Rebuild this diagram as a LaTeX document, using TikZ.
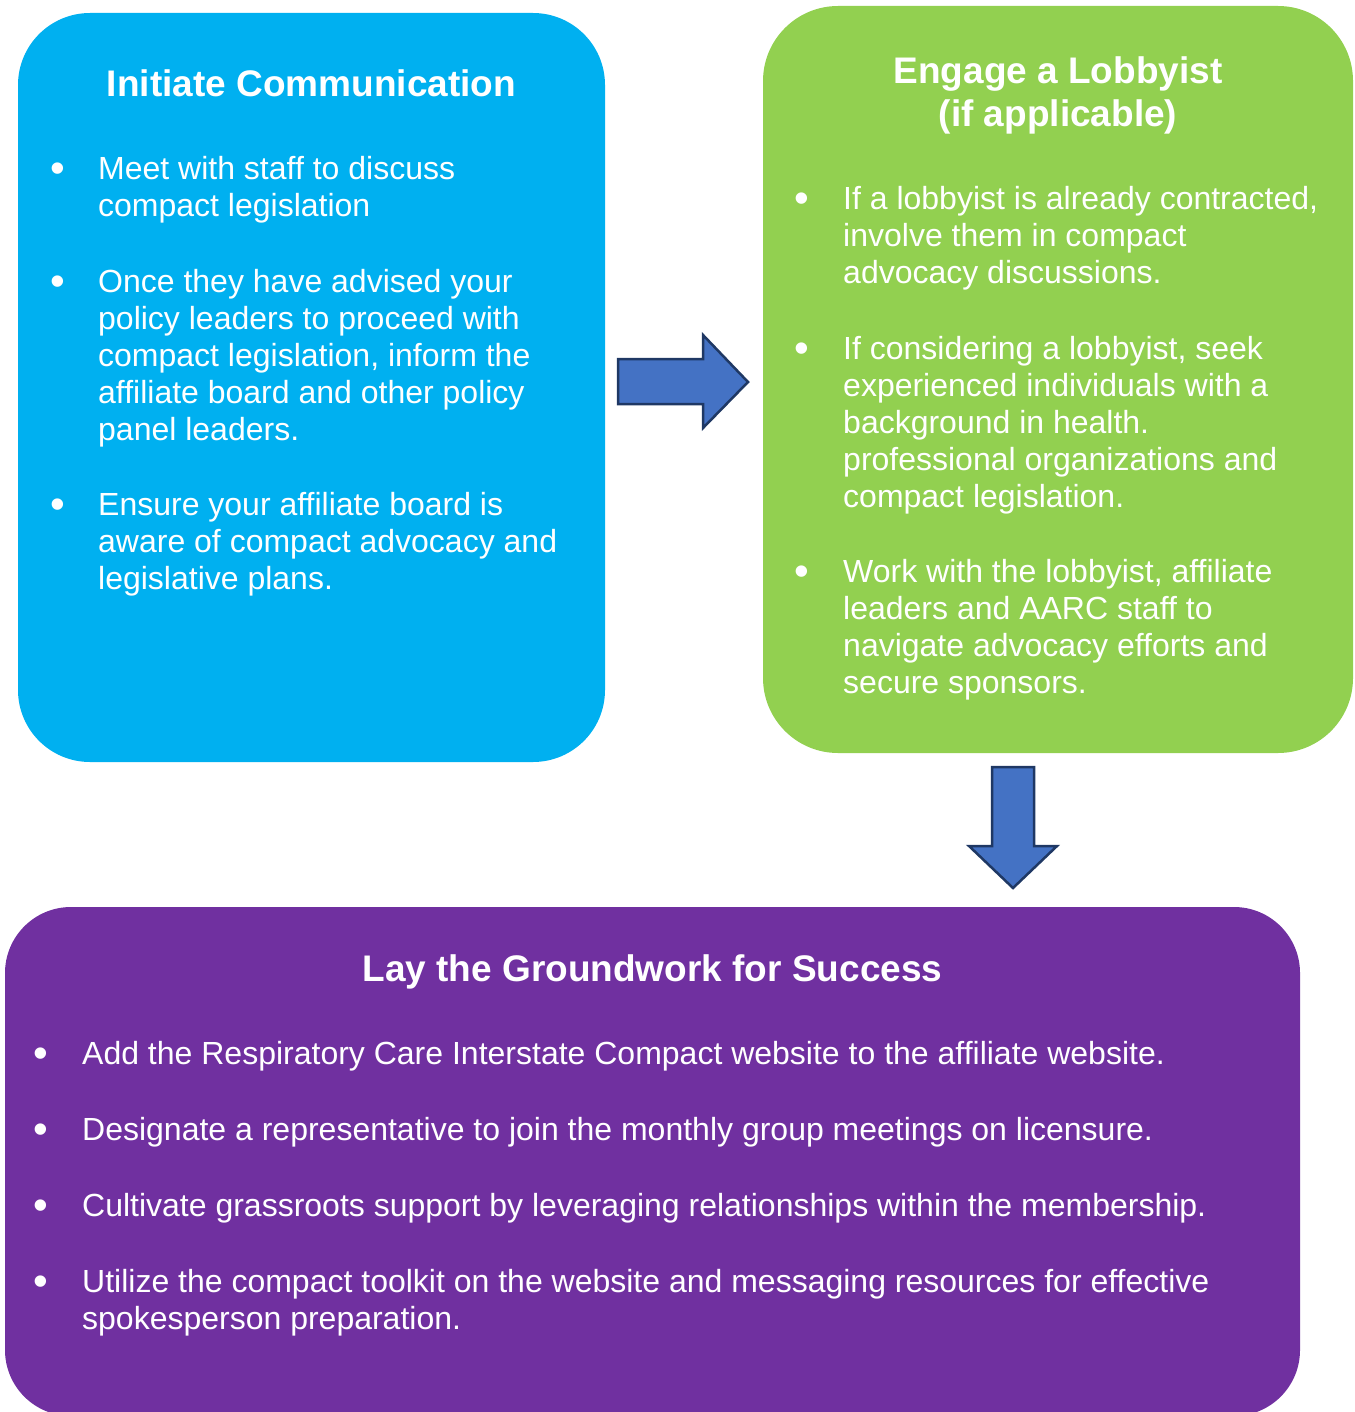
\documentclass[tikz,border=0pt]{standalone}
\usepackage{fontspec}
\setmainfont{Liberation Sans}
\definecolor{boxblue}{HTML}{00B0F0}
\definecolor{boxgreen}{HTML}{92D050}
\definecolor{boxpurple}{HTML}{7030A0}
\definecolor{arrowfill}{HTML}{4472C4}
\definecolor{arrowline}{HTML}{1F3864}
\tikzset{
  panel/.style={rounded corners=#1, draw=none},
  ttl/.style={text=white, inner sep=0pt, anchor=base, font=\fontsize{37}{42.5}\selectfont\bfseries, align=center},
  itemtext/.style={text=white, inner sep=0pt, anchor=base west, font=\fontsize{32}{37}\selectfont, align=left},
  dot/.style={text=white, inner sep=0pt, anchor=base, yshift=-3pt, font=\fontsize{42}{42}\selectfont},
  blockarrow/.style={fill=arrowfill, draw=arrowline, line width=2.5pt, line join=miter}
}
\begin{document}
\begin{tikzpicture}[x=1pt,y=-1pt]
\useasboundingbox (0,0) rectangle (1354,1412);
% panels (multi-line nodes are anchored at the baseline of their last line)
\fill[boxblue, panel=72pt] (18,13) rectangle (605,762);
\fill[boxgreen, panel=75pt] (763,6) rectangle (1353,753);
\fill[boxpurple, panel=66pt] (5,907) rectangle (1300,1416);

% blue panel
\node[ttl] (t1) at (311.5,97) {Initiate Communication};
\node[dot] (d11) at (58,180) {•};
\node[itemtext] (i11) at (98,217) {Meet with staff to discuss\\compact legislation};
\node[dot] (d12) at (58,292) {•};
\node[itemtext] (i12) at (98,440) {Once they have advised your\\policy leaders to proceed with\\compact legislation, inform the\\affiliate board and other policy\\panel leaders.};
\node[dot] (d13) at (58,515) {•};
\node[itemtext] (i13) at (98,589) {Ensure your affiliate board is\\aware of compact advocacy and\\legislative plans.};

% green panel
\node[ttl] (t2) at (1058,126.5) {Engage a Lobbyist\\(if applicable)};
\node[dot] (d21) at (802,210) {•};
\node[itemtext] (i21) at (843,284) {If a lobbyist is already contracted,\\involve them in compact\\advocacy discussions.};
\node[dot] (d22) at (802,359) {•};
\node[itemtext] (i22) at (843,507) {If considering a lobbyist, seek\\experienced individuals with a\\background in health.\\professional organizations and\\compact legislation.};
\node[dot] (d23) at (802,582) {•};
\node[itemtext] (i23) at (843,693) {Work with the lobbyist, affiliate\\leaders and AARC staff to\\navigate advocacy efforts and\\secure sponsors.};

% purple panel
\node[ttl] (t3) at (652.5,981) {Lay the Groundwork for Success};
\node[dot] (d31) at (41,1064) {•};
\node[itemtext] (i31) at (82,1064) {Add the Respiratory Care Interstate Compact website to the affiliate website.};
\node[dot] (d32) at (41,1140) {•};
\node[itemtext] (i32) at (82,1140) {Designate a representative to join the monthly group meetings on licensure.};
\node[dot] (d33) at (41,1216) {•};
\node[itemtext] (i33) at (82,1216) {Cultivate grassroots support by leveraging relationships within the membership.};
\node[dot] (d34) at (41,1292) {•};
\node[itemtext] (i34) at (82,1329) {Utilize the compact toolkit on the website and messaging resources for effective\\spokesperson preparation.};

% block arrows
\draw[blockarrow] (618,359) -- (703,359) -- (703,335) -- (748,382) -- (703,428) -- (703,404) -- (618,404) -- cycle;
\draw[blockarrow] (992,767) -- (1034,767) -- (1034,846) -- (1057,846) -- (1013,888) -- (969,846) -- (992,846) -- cycle;
\end{tikzpicture}
\end{document}
